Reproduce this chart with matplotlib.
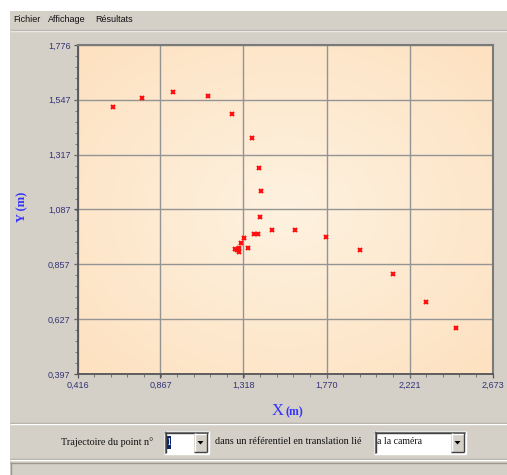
import matplotlib
matplotlib.use("Agg")
import matplotlib.pyplot as plt
import numpy as np
from matplotlib.patches import Rectangle, Polygon

# trajectory of point 1 (metres)
x_vals = [0.607, 0.768, 0.935, 1.124, 1.256, 1.365, 1.403, 1.412, 1.408,
          1.399, 1.377, 1.344, 1.323, 1.305, 1.296, 1.283, 1.272, 1.294,
          1.472, 1.600, 1.767, 1.950, 2.129, 2.309, 2.474]
y_vals = [1.517, 1.553, 1.579, 1.562, 1.488, 1.387, 1.261, 1.165, 1.056,
          0.983, 0.983, 0.926, 0.966, 0.945, 0.924, 0.917, 0.921, 0.910,
          1.002, 1.002, 0.971, 0.918, 0.815, 0.698, 0.589]

x_ticks = [0.416, 0.867, 1.318, 1.770, 2.221, 2.673]
x_labels = ["0,416", "0,867", "1,318", "1,770", "2,221", "2,673"]
y_ticks = [0.397, 0.627, 0.857, 1.087, 1.317, 1.547, 1.776]
y_labels = ["0,397", "0,627", "0,857", "1,087", "1,317", "1,547", "1,776"]

W, H = 507, 475
GRAY = "#d4d0c8"

fig = plt.figure(figsize=(W / 100, H / 100), dpi=100)
fig.patch.set_facecolor("white")

# window chrome in pixel coordinates
ui = fig.add_axes([0, 0, 1, 1])
ui.set_xlim(0, W)
ui.set_ylim(H, 0)
ui.axis("off")


def rect(x0, y0, x1, y1, **kw):
    ui.add_patch(Rectangle((x0, y0), x1 - x0, y1 - y0, **kw))


def hline(y, x0, x1, color, lw=1):
    ui.plot([x0, x1], [y, y], color=color, lw=lw, solid_capstyle="butt")


def vline(x, y0, y1, color, lw=1):
    ui.plot([x, x], [y0, y1], color=color, lw=lw, solid_capstyle="butt")


rect(10, 11, W, H, facecolor=GRAY, edgecolor="none")
hline(30.5, 10, W, "#f4f3f0")
hline(29.5, 10, W, "#bcb8b0")

for label, xp in [("Fichier", 13), ("Affichage", 48), ("Résultats", 95)]:
    ui.text(xp, 19.5, label, fontsize=6.5, family="Liberation Sans",
            va="center", ha="left", color="#111111")

# toolbar separators
hline(422.5, 10, W, "#a8a49c")
hline(423.8, 10, W, "#ffffff")
hline(458.5, 10, W, "#a8a49c")
hline(459.8, 10, W, "#ffffff")
rect(10, 462, W, H, facecolor=GRAY, edgecolor="none")
hline(462.5, 10, W, "#9c9890")
vline(10.5, 462, H, "#9c9890")

ui.text(61, 442, "Trajectoire du point n°", fontsize=7.3,
        family="Liberation Serif", va="center", ha="left", color="#111111")
ui.text(215, 442, "dans un référentiel en translation lié", fontsize=7.3,
        family="Liberation Serif", va="center", ha="left", color="#111111")


def combo(x0, x1, y0, y1):
    rect(x0, y0, x1, y1, facecolor="white", edgecolor="none")
    hline(y0 + 0.5, x0, x1, "#808080")
    vline(x0 + 0.5, y0, y1, "#808080")
    hline(y0 + 1.5, x0 + 1, x1 - 1, "#404040")
    vline(x0 + 1.5, y0 + 1, y1 - 1, "#404040")
    hline(y1 - 0.5, x0, x1, "#ffffff")
    vline(x1 - 0.5, y0, y1, "#ffffff")
    bx0 = x1 - 15
    rect(bx0, y0 + 2, x1 - 2, y1 - 2, facecolor=GRAY, edgecolor="none")
    hline(y0 + 2.5, bx0, x1 - 2, "#ffffff")
    vline(bx0 + 0.5, y0 + 2, y1 - 2, "#ffffff")
    hline(y1 - 2.5, bx0, x1 - 2, "#404040")
    vline(x1 - 2.5, y0 + 2, y1 - 2, "#404040")
    cx = (bx0 + x1 - 2) / 2
    cy = (y0 + y1) / 2
    ui.add_patch(Polygon([[cx - 3, cy - 1.5], [cx + 3, cy - 1.5], [cx, cy + 2]],
                         closed=True, facecolor="black", edgecolor="none"))


combo(164, 209, 431, 454)
rect(166, 436, 171, 449, facecolor="#0a246a", edgecolor="none")
ui.text(168.5, 442.5, "1", fontsize=7, family="Liberation Serif",
        va="center", ha="center", color="white")
combo(374, 466, 431, 454)
ui.text(377, 442, "a la caméra", fontsize=7, family="Liberation Serif",
        va="center", ha="left", color="#111111")

# plot area
left, right = 77.5, 492.7
top, bottom = 45, 374
ax = fig.add_axes([left / W, 1 - bottom / H, (right - left) / W, (bottom - top) / H])

ax.set_xlim(x_ticks[0], x_ticks[-1])
ax.set_ylim(y_ticks[0], y_ticks[-1])

# peach gradient background
gx, gy = np.meshgrid(np.linspace(-1, 1, 200), np.linspace(-1, 1, 200))
r = np.clip(np.sqrt(gx ** 2 + gy ** 2) / 1.414, 0, 1)
c_in = np.array([254, 242, 224]) / 255
c_out = np.array([253, 225, 192]) / 255
img = c_in[None, None, :] * (1 - r[..., None]) + c_out[None, None, :] * r[..., None]
ax.imshow(img, extent=[x_ticks[0], x_ticks[-1], y_ticks[0], y_ticks[-1]],
          aspect="auto", zorder=0, interpolation="bilinear")

ax.set_xticks(x_ticks)
ax.set_xticklabels(x_labels)
ax.set_yticks(y_ticks)
ax.set_yticklabels(y_labels)
ax.set_xticks(np.linspace(x_ticks[0], x_ticks[-1], 26), minor=True)
ax.set_yticks(np.linspace(y_ticks[0], y_ticks[-1], 31), minor=True)
ax.grid(True, which="major", color="#949494", lw=1.0, zorder=1)
ax.set_axisbelow(True)

ax.tick_params(which="major", direction="out", length=3, width=0.9,
               color="#555555", labelsize=6.5, labelcolor="#333377", pad=2)
ax.tick_params(which="minor", direction="out", length=2, width=0.7,
               color="#777777")
for lab in ax.get_xticklabels() + ax.get_yticklabels():
    lab.set_family("Liberation Sans")

for side in ["left", "bottom"]:
    ax.spines[side].set_color("#555555")
    ax.spines[side].set_linewidth(1.3)
for side in ["top", "right"]:
    ax.spines[side].set_color("#7a7a7a")
    ax.spines[side].set_linewidth(1.5)

ax.plot(x_vals, y_vals, linestyle="none", marker="x", ms=3.5, mew=1.5,
        color="#ff1010", zorder=3)

# axis titles
fig.text(22 / W, 1 - 207 / H, "Y (m)", rotation=90, fontsize=9, weight="bold",
         family="Liberation Serif", color="#3333ff", ha="center", va="center")
fig.text(284 / W, 1 - 411 / H, "X", fontsize=12, family="Liberation Serif",
         color="#3333ff", ha="right", va="center")
fig.text(285 / W, 1 - 412 / H, "(m)", fontsize=8.5, weight="bold",
         family="Liberation Serif", color="#3333ff", ha="left", va="center")

fig.savefig("out.png", dpi=100)
